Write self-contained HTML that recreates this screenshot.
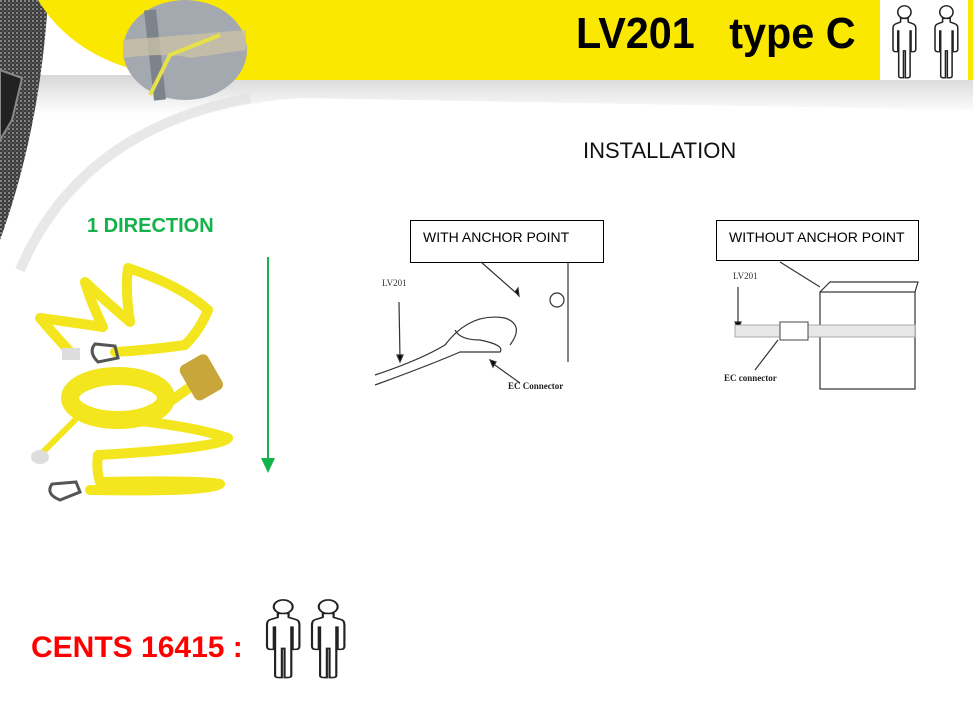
<!DOCTYPE html>
<html><head><meta charset="utf-8"><style>
html,body{margin:0;padding:0}
body{width:973px;height:702px;position:relative;overflow:hidden;background:#fff;font-family:"Liberation Sans",sans-serif}
.t{position:absolute;white-space:nowrap}
</style></head><body>
<svg width="973" height="702" style="position:absolute;left:0;top:0">
<defs>
<linearGradient id="sh" x1="0" y1="0" x2="0" y2="1"><stop offset="0" stop-color="#d8d8d8"/><stop offset="1" stop-color="#fff"/></linearGradient>
<pattern id="tex" width="4" height="4" patternUnits="userSpaceOnUse"><rect width="4" height="4" fill="#3a3a3a"/><circle cx="1" cy="1" r="1" fill="#9a9a9a"/><circle cx="3" cy="3" r="0.8" fill="#6a6a6a"/></pattern>
<g id="man" fill="#fff" stroke="#222" stroke-width="1.6">
<circle cx="12" cy="9" r="7"/>
<path d="M8 16 L8 20 L3 22 Q0 23 0 27 L0 50 Q0 53 3 53 L5 53 L5 30 L6 30 L6 80 Q6 82 9 82 L11 82 L11 52 L13 52 L13 82 L15 82 Q18 82 18 80 L18 30 L19 30 L19 53 L21 53 Q24 53 24 50 L24 27 Q24 23 21 22 L16 20 L16 16 Z"/>
</g>
</defs>
<rect x="0" y="75" width="973" height="40" fill="url(#sh)"/>
<path d="M0 120 L0 702 L973 702 L973 110 L300 98 Q120 110 30 260 L0 300 Z" fill="#fff"/>
<path d="M20 270 Q80 130 250 98" fill="none" stroke="#e2e2e2" stroke-width="10" opacity="0.8"/>
<path d="M0 0 L48 0 Q40 130 0 240 Z" fill="url(#tex)"/>
<path d="M0 70 L22 78 L12 120 L0 140 Z" fill="#222" stroke="#888" stroke-width="2"/>
<path d="M38 0 L882 0 L882 80 L190 80 Q80 70 38 0 Z" fill="#fbe800"/>
<rect x="880" y="0" width="93" height="80" fill="#fff"/>
<rect x="968" y="0" width="5" height="80" fill="#fbe800"/>
<ellipse cx="185" cy="50" rx="62" ry="50" fill="#a4a9b0"/>
<path d="M150 10 L160 100" stroke="#7d838b" stroke-width="12"/>
<path d="M123 58 Q170 52 190 58 L246 50 L246 30 L123 40 Z" fill="#c9c1a8" opacity="0.8"/>
<path d="M150 95 L170 55 L220 35" stroke="#e6e14a" stroke-width="4" fill="none"/>
<use href="#man" transform="translate(893,4) scale(0.95,0.9)"/>
<use href="#man" transform="translate(935,4) scale(0.95,0.9)"/>
<use href="#man" transform="translate(267,598) scale(1.35,0.97)"/>
<use href="#man" transform="translate(312,598) scale(1.35,0.97)"/>
<line x1="268" y1="257" x2="268" y2="462" stroke="#13b24a" stroke-width="2"/>
<path d="M261 458 L275 458 L268 473 Z" fill="#13b24a"/>
<g fill="none" stroke="#f3e61e" stroke-width="10" stroke-linejoin="round" stroke-linecap="round">
<path d="M73 355 Q50 330 40 318 Q70 322 103 327 Q90 300 85 282 Q110 305 130 322 Q125 290 128 268 Q180 285 208 310 Q200 330 185 345 Q150 350 115 352"/>
<ellipse cx="118" cy="398" rx="48" ry="22" stroke-width="18"/>
<path d="M165 405 L200 380"/>
<path d="M110 418 Q190 425 228 438 Q220 448 98 455 Q96 470 100 482 Q200 480 220 484 Q210 492 90 490"/>
<path d="M75 420 L40 455" stroke-width="6"/>
</g>
<ellipse cx="118" cy="398" rx="18" ry="9" fill="#fff"/>
<rect x="185" y="358" width="32" height="40" rx="6" fill="#c9a63a" transform="rotate(-30 200 377)"/>
<rect x="62" y="348" width="18" height="12" fill="#ddd"/>
<path d="M95 344 Q88 352 98 362 L118 358 L115 346 Z" fill="none" stroke="#555" stroke-width="3"/>
<path d="M52 484 Q45 494 60 500 L80 492 L76 482 Z" fill="none" stroke="#555" stroke-width="3"/>
<ellipse cx="40" cy="457" rx="9" ry="7" fill="#ddd"/>
<rect x="410.5" y="220.5" width="193" height="42" fill="#fff" stroke="#000"/>
<rect x="716.5" y="220.5" width="202" height="40" fill="#fff" stroke="#000"/>
<g stroke="#333" fill="none" stroke-width="1.2">
<line x1="568" y1="263" x2="568" y2="362"/>
<line x1="481" y1="262" x2="515" y2="292"/>
<path d="M515 292 L518 288 L519 296 Z" fill="#000"/>
<circle cx="557" cy="300" r="7"/>
<path d="M375 375 Q420 360 445 345 Q470 312 505 318 Q525 325 510 345 M375 385 Q430 365 460 352 L500 352 Q505 345 480 340 Q460 340 455 330"/>
<line x1="399" y1="302" x2="400" y2="358"/>
<path d="M397 355 L403 355 L400 362 Z" fill="#000"/>
<line x1="520" y1="383" x2="492" y2="363"/>
<path d="M490 360 L496 362 L493 367 Z" fill="#000"/>
</g>
<text x="382" y="286" font-family="Liberation Serif" font-size="9" fill="#333">LV201</text>
<text x="508" y="389" font-family="Liberation Serif" font-size="9" font-weight="bold" fill="#222">EC Connector</text>
<g stroke="#333" fill="none" stroke-width="1.2">
<rect x="820" y="292" width="95" height="97"/>
<path d="M820 292 L830 282 L918 282 L915 292"/>
<line x1="780" y1="262" x2="820" y2="287"/>
<line x1="738" y1="287" x2="738" y2="325"/>
<path d="M735 322 L741 322 L738 330 Z" fill="#000"/>
<line x1="755" y1="370" x2="778" y2="340"/>
</g>
<rect x="735" y="325" width="180" height="12" fill="#e8e8e8" stroke="#999" stroke-width="0.8"/>
<rect x="780" y="322" width="28" height="18" fill="#fff" stroke="#444"/>
<text x="733" y="279" font-family="Liberation Serif" font-size="9" fill="#333">LV201</text>
<text x="724" y="381" font-family="Liberation Serif" font-size="9" font-weight="bold" fill="#222">EC connector</text>
</svg>
<div class="t" style="left:576px;top:9px;font-size:44px;font-weight:bold;color:#000;transform:scaleX(0.94);transform-origin:0 0">LV201&nbsp;&nbsp; type C</div>
<div class="t" style="left:583px;top:138px;font-size:22px;color:#111">INSTALLATION</div>
<div class="t" style="left:87px;top:215px;font-size:20px;font-weight:bold;color:#13b24a">1 DIRECTION</div>
<div class="t" style="left:423px;top:229px;font-size:14px;color:#000">WITH ANCHOR POINT</div>
<div class="t" style="left:729px;top:229px;font-size:14px;color:#000">WITHOUT ANCHOR POINT</div>
<div class="t" style="left:31px;top:631px;font-size:30px;font-weight:bold;color:#f00">CENTS 16415 :</div>
</body></html>
